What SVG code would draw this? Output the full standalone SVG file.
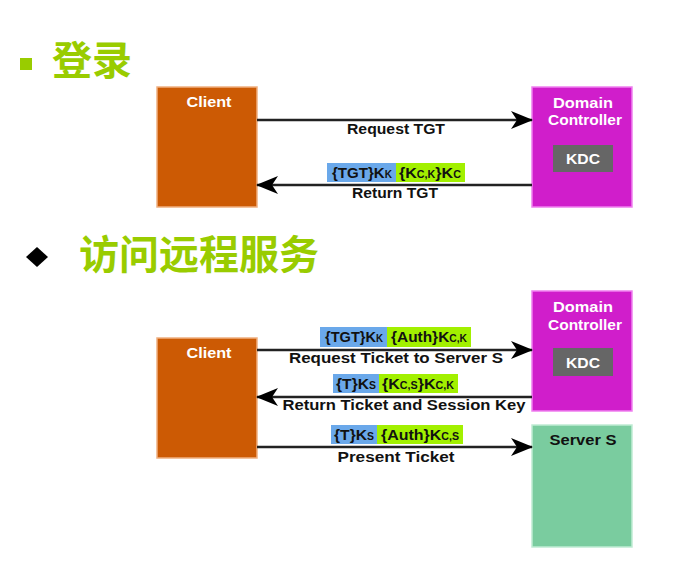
<svg xmlns="http://www.w3.org/2000/svg" width="699" height="568" viewBox="0 0 699 568">
<style>
.title{font-family:"Noto Sans CJK SC","Liberation Sans",sans-serif;font-weight:bold;font-size:40px;fill:#99cc00}
.client{fill:#cc5a04;stroke:#f0b080;stroke-width:1.5}
.dc{fill:#d01ecb;stroke:#f080f0;stroke-width:1.5}
.server{fill:#7acc9f;stroke:#c0ecd4;stroke-width:1.5}
.kdc{fill:#666666}
.wt{font-family:"Liberation Sans",Arial,sans-serif;font-weight:bold;font-size:15px;fill:#ffffff;text-anchor:middle}
.bt{font-family:"Liberation Sans",Arial,sans-serif;font-weight:bold;font-size:14.5px;fill:#111111;text-anchor:middle}
.ht{font-family:"Liberation Sans",Arial,sans-serif;font-weight:bold;font-size:15px;fill:#111111;text-anchor:middle}
.sub{font-size:10px}
.blue{fill:#6aa8ea}
.green{fill:#a2f000}
.line{stroke:#222222;stroke-width:2.5;fill:none}
</style>
<defs>
<marker id="ah" viewBox="0 0 22 18" refX="21" refY="9" markerWidth="22" markerHeight="18" markerUnits="userSpaceOnUse" orient="auto">
<path d="M0,0 L22,9 L0,18 L6,9 Z" fill="#000000"/>
</marker>
</defs>
<rect width="699" height="568" fill="#ffffff"/>
<g id="title1">
<rect x="20" y="58" width="12" height="12" fill="#99cc00"/>
<text class="title" x="52" y="75">登录</text>
</g>
<g id="title2">
<polygon points="37,247 48,257 37,267 26,257" fill="#000000"/>
<text class="title" x="79" y="269">访问远程服务</text>
</g>
<g id="client1">
<rect class="client" x="157" y="87" width="100" height="120"/>
<text class="wt" x="209" y="107" textLength="45" lengthAdjust="spacingAndGlyphs">Client</text>
</g>
<g id="dc1">
<rect class="dc" x="532" y="87" width="100" height="120"/>
<text class="wt" x="583" y="108" textLength="60" lengthAdjust="spacingAndGlyphs">Domain</text>
<text class="wt" x="585" y="125" textLength="74" lengthAdjust="spacingAndGlyphs">Controller</text>
<rect class="kdc" x="553" y="145" width="60" height="27"/>
<text class="wt" x="583" y="164" textLength="34" lengthAdjust="spacingAndGlyphs">KDC</text>
</g>
<g id="client2">
<rect class="client" x="157" y="338" width="100" height="120"/>
<text class="wt" x="209" y="358" textLength="45" lengthAdjust="spacingAndGlyphs">Client</text>
</g>
<g id="dc2">
<rect class="dc" x="532" y="291" width="100" height="120"/>
<text class="wt" x="583" y="312" textLength="60" lengthAdjust="spacingAndGlyphs">Domain</text>
<text class="wt" x="585" y="330" textLength="74" lengthAdjust="spacingAndGlyphs">Controller</text>
<rect class="kdc" x="553" y="348" width="60" height="28"/>
<text class="wt" x="583" y="368" textLength="34" lengthAdjust="spacingAndGlyphs">KDC</text>
</g>
<g id="server">
<rect class="server" x="532" y="425" width="100" height="122"/>
<text class="bt" x="583" y="445" textLength="67" lengthAdjust="spacingAndGlyphs">Server S</text>
</g>
<g id="connectors">
<line class="line" x1="257" y1="120" x2="532" y2="120" marker-end="url(#ah)"/>
<line class="line" x1="532" y1="185" x2="257" y2="185" marker-end="url(#ah)"/>
<line class="line" x1="257" y1="350" x2="532" y2="350" marker-end="url(#ah)"/>
<line class="line" x1="532" y1="397" x2="257" y2="397" marker-end="url(#ah)"/>
<line class="line" x1="257" y1="447" x2="532" y2="447" marker-end="url(#ah)"/>
</g>
<g id="labels">
<text class="bt" x="396" y="134" textLength="98" lengthAdjust="spacingAndGlyphs">Request TGT</text>
<rect class="blue" x="327" y="163" width="69" height="19"/>
<rect class="green" x="396" y="163" width="69" height="19"/>
<text class="ht" x="362" y="178" textLength="60" lengthAdjust="spacingAndGlyphs">{TGT}K<tspan class="sub">K</tspan></text>
<text class="ht" x="430" y="178" textLength="62" lengthAdjust="spacingAndGlyphs">{K<tspan class="sub">C,K</tspan>}K<tspan class="sub">C</tspan></text>
<text class="bt" x="395" y="198" textLength="86" lengthAdjust="spacingAndGlyphs">Return TGT</text>

<rect class="blue" x="320" y="327" width="67" height="20"/>
<rect class="green" x="387" y="327" width="84" height="20"/>
<text class="ht" x="354" y="342" textLength="58" lengthAdjust="spacingAndGlyphs">{TGT}K<tspan class="sub">K</tspan></text>
<text class="ht" x="429" y="342" textLength="76" lengthAdjust="spacingAndGlyphs">{Auth}K<tspan class="sub">C,K</tspan></text>
<text class="bt" x="396" y="363" textLength="214" lengthAdjust="spacingAndGlyphs">Request Ticket to Server S</text>

<rect class="blue" x="333" y="374" width="46" height="19"/>
<rect class="green" x="379" y="374" width="79" height="19"/>
<text class="ht" x="356" y="389" textLength="40" lengthAdjust="spacingAndGlyphs">{T}K<tspan class="sub">S</tspan></text>
<text class="ht" x="418" y="389" textLength="72" lengthAdjust="spacingAndGlyphs">{K<tspan class="sub">C,S</tspan>}K<tspan class="sub">C,K</tspan></text>
<text class="bt" x="404" y="410" textLength="243" lengthAdjust="spacingAndGlyphs">Return Ticket and Session Key</text>

<rect class="blue" x="331" y="425" width="46" height="19"/>
<rect class="green" x="377" y="425" width="86" height="19"/>
<text class="ht" x="354" y="440" textLength="40" lengthAdjust="spacingAndGlyphs">{T}K<tspan class="sub">S</tspan></text>
<text class="ht" x="420" y="440" textLength="78" lengthAdjust="spacingAndGlyphs">{Auth}K<tspan class="sub">C,S</tspan></text>
<text class="bt" x="396" y="462" textLength="117" lengthAdjust="spacingAndGlyphs">Present Ticket</text>
</g>
</svg>
